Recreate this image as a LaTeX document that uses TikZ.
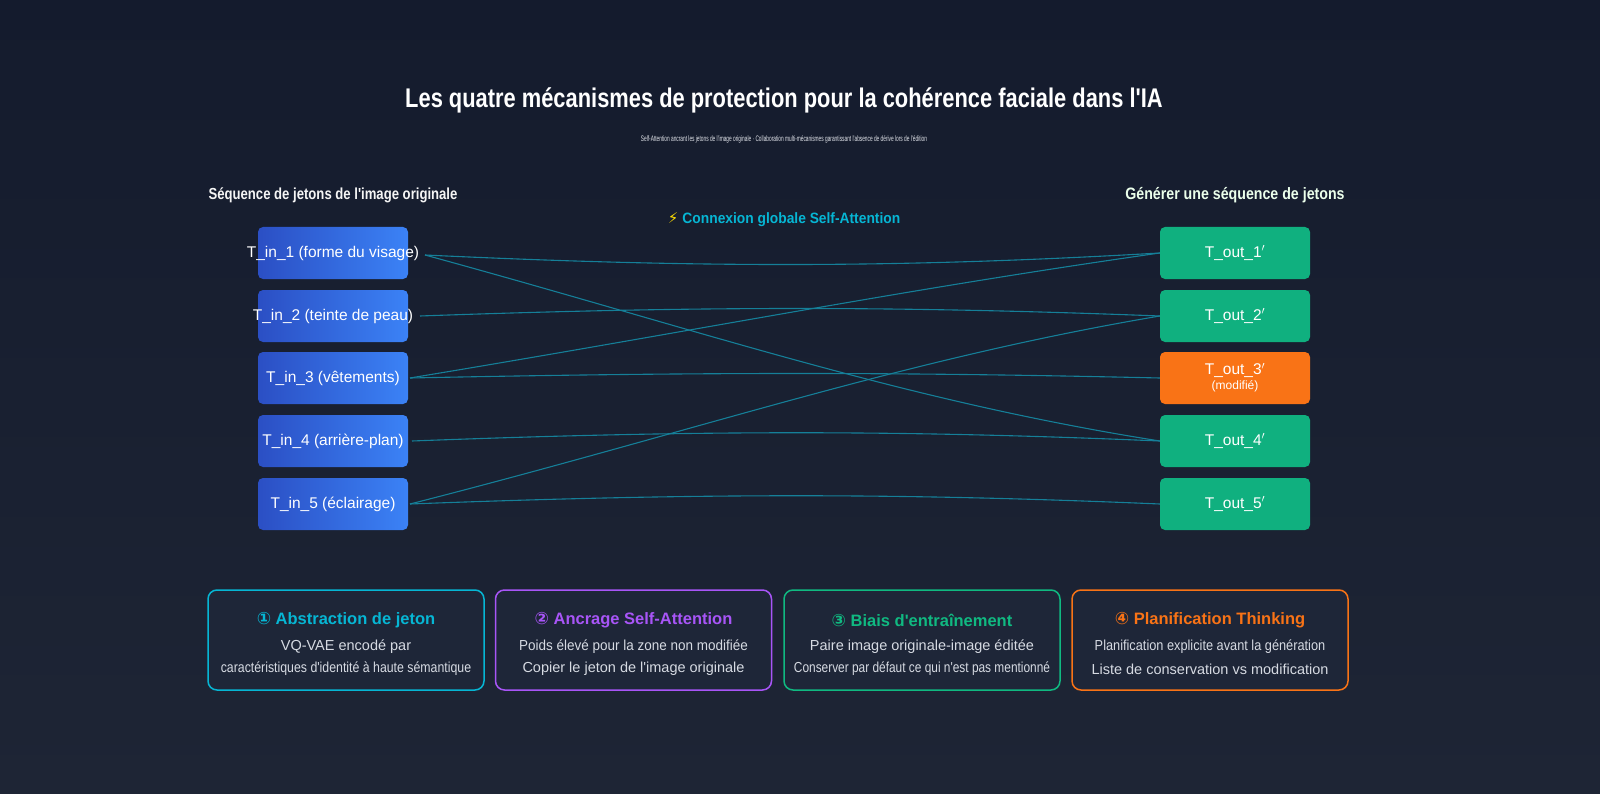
\documentclass[tikz,border=0pt]{standalone}
\usepackage{fontspec}
\setmainfont{Liberation Sans}[Ligatures=TeXOff]
\newfontfamily\symf{DejaVu Sans}
\usetikzlibrary{positioning}
\definecolor{bgA}{HTML}{141B2D}
\definecolor{bgB}{HTML}{1E2535}
\definecolor{inA}{HTML}{2B4FC4}
\definecolor{inB}{HTML}{3B82F6}
\definecolor{outG}{HTML}{10B07F}
\definecolor{outO}{HTML}{F97316}
\definecolor{lnk}{HTML}{157F98}
\definecolor{cyanC}{HTML}{06B6D4}
\definecolor{purC}{HTML}{A855F7}
\definecolor{grnC}{HTML}{10B981}
\definecolor{ornC}{HTML}{F97316}
\definecolor{cardF}{HTML}{1E2638}
\definecolor{txtG}{HTML}{D6DAE2}
\newcommand{\ovl}[1]{\makebox[0pt]{#1}}
\tikzset{
 inbox/.style={rounded corners=5pt, minimum width=150pt, minimum height=52pt, inner sep=0pt, left color=inA, right color=inB, text=white, font=\fontsize{15.5}{18}\selectfont},
 outbox/.style={rounded corners=5pt, minimum width=150pt, minimum height=52pt, inner sep=0pt, fill=outG, text=white, font=\fontsize{15.5}{18}\selectfont},
 card/.style={rounded corners=9pt, line width=1.5pt, fill=cardF, minimum width=276pt, minimum height=100pt, inner sep=0pt},
 lk/.style={draw=lnk, line width=1.1pt},
 ctitle/.style={font=\bfseries\fontsize{16.5}{19}\selectfont},
 cbody/.style={text=txtG, font=\fontsize{14.5}{17}\selectfont},
}
\begin{document}
\begin{tikzpicture}[x=1pt,y=-1pt]
\shade[top color=bgA, bottom color=bgB] (0,0) rectangle (1600,794);
\useasboundingbox (0,0) rectangle (1600,794);
\node[text=white, font=\bfseries\fontsize{27}{30}\selectfont] (title) at (784,100) {\scalebox{0.81}[1]{Les quatre mécanismes de protection pour la cohérence faciale dans l'IA}};
\node[text=txtG!70, font=\fontsize{8}{10}\selectfont] (sub) at (784,139) {\scalebox{0.6}[1]{Self-Attention ancrant les jetons de l'image originale · Collaboration multi-mécanismes garantissant l'absence de dérive lors de l'édition}};
\node[text=white!92!gray, font=\bfseries\fontsize{16}{19}\selectfont] (hl) at (333,195) {\scalebox{0.82}[1]{Séquence de jetons de l'image originale}};
\node[text=green!8!white, font=\bfseries\fontsize{16.5}{19}\selectfont] (hr) at (1235,195) {\scalebox{0.86}[1]{Générer une séquence de jetons}};
\node[text=cyanC, font=\bfseries\fontsize{15}{18}\selectfont] (hc) at (784,220) {{\symf\color{yellow!80!orange}⚡} \scalebox{0.92}[1]{Connexion globale Self-Attention}};

\node[inbox] (i1) at (333,253) {\ovl{T\_in\_1 (forme du visage)}};
\node[inbox] (i2) at (333,316) {\ovl{T\_in\_2 (teinte de peau)}};
\node[inbox] (i3) at (333,378) {\ovl{T\_in\_3 (vêtements)}};
\node[inbox] (i4) at (333,441) {\ovl{T\_in\_4 (arrière-plan)}};
\node[inbox] (i5) at (333,504) {\ovl{T\_in\_5 (éclairage)}};
\node[outbox] (o1) at (1235,253) {T\_out\_1$'$};
\node[outbox] (o2) at (1235,316) {T\_out\_2$'$};
\node[outbox, fill=outO, align=center] (o3) at (1235,378) {T\_out\_3$'$\\[-3pt]{\fontsize{12}{14}\selectfont (modifié)}};
\node[outbox] (o4) at (1235,441) {T\_out\_4$'$};
\node[outbox] (o5) at (1235,504) {T\_out\_5$'$};

\coordinate (s1) at (425,255);
\coordinate (s2) at (420,316);
\coordinate (s3) at (410,378);
\coordinate (s4) at (412,441);
\coordinate (s5) at (410,504);
\draw[lk] (s1) .. controls (700,268) and (900,268) .. (o1.west);
\draw[lk] (s1) .. controls (700,330) and (900,400) .. (o4.west);
\draw[lk] (s2) .. controls (700,306) and (900,306) .. (o2.west);
\draw[lk] (s3) .. controls (700,330) and (900,290) .. (o1.west);
\draw[lk] (s3) .. controls (700,372) and (900,372) .. (o3.west);
\draw[lk] (s4) .. controls (700,430) and (900,430) .. (o4.west);
\draw[lk] (s5) .. controls (700,430) and (900,360) .. (o2.west);
\draw[lk] (s5) .. controls (700,493) and (900,493) .. (o5.west);

\node[card, draw=cyanC] (c1) at (346,640) {};
\node[card, draw=purC] (c2) at (633.5,640) {};
\node[card, draw=grnC] (c3) at (922,640) {};
\node[card, draw=ornC] (c4) at (1210,640) {};
\node[ctitle, text=cyanC] (t1) at (346,620) {{\symf\fontsize{17}{19}\selectfont ①} Abstraction de jeton};
\node[cbody] (a1) at (346,647) {VQ-VAE encodé par};
\node[cbody] (b1) at (346,669) {\scalebox{0.85}[1]{caractéristiques d'identité à haute sémantique}};
\node[ctitle, text=purC] (t2) at (633.5,620) {{\symf\fontsize{17}{19}\selectfont ②} Ancrage Self-Attention};
\node[cbody] (a2) at (633.5,647) {\scalebox{0.93}[1]{Poids élevé pour la zone non modifiée}};
\node[cbody] (b2) at (633.5,669) {Copier le jeton de l'image originale};
\node[ctitle, text=grnC] (t3) at (922,620) {{\symf\fontsize{17}{19}\selectfont ③} Biais d'entraînement};
\node[cbody] (a3) at (922,647) {Paire image originale-image éditée};
\node[cbody] (b3) at (922,669) {\scalebox{0.82}[1]{Conserver par défaut ce qui n'est pas mentionné}};
\node[ctitle, text=ornC] (t4) at (1210,620) {{\symf\fontsize{17}{19}\selectfont ④} Planification Thinking};
\node[cbody] (a4) at (1210,647) {\scalebox{0.88}[1]{Planification explicite avant la génération}};
\node[cbody] (b4) at (1210,669) {Liste de conservation vs modification};
\end{tikzpicture}
\end{document}
